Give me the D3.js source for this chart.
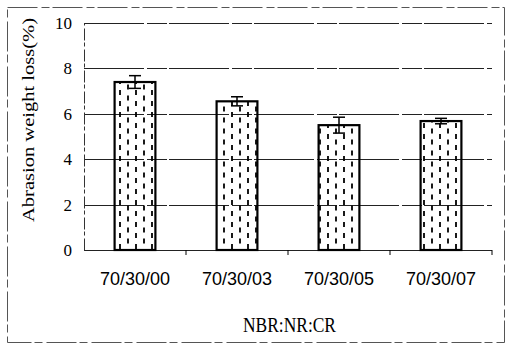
<!DOCTYPE html>
<meta charset="utf-8">
<head>
  <style>
    body { margin: 0; background: #fff; }
    svg { display: block; }
  </style>
</head>
<body>
<div id="chart"></div>
<script src="https://cdn.jsdelivr.net/npm/d3@7"></script>
<script>

var categories = ["70/30/00", "70/30/03", "70/30/05", "70/30/07"];
var values = [7.4, 6.55, 5.5, 5.68];
var errors = [0.28, 0.2, 0.35, 0.12];
var yTicks = [0, 2, 4, 6, 8, 10];

var serif = "'Liberation Serif', 'DejaVu Serif', serif";
var sans = "'Liberation Sans Narrow', 'Liberation Sans', Arial, sans-serif";

var width = 506, height = 349;
var margin = { top: 23, right: 14, bottom: 99, left: 84 };
var w = width - margin.left - margin.right,
    h = height - margin.top - margin.bottom;

var svg = d3.select("#chart").append("svg")
    .attr("width", width)
    .attr("height", height);

// hatch pattern of staggered vertical dashes
var pat = svg.append("defs").append("pattern")
    .attr("id", "dashes")
    .attr("patternUnits", "userSpaceOnUse")
    .attr("width", 16)
    .attr("height", 11);
pat.append("line").attr("x1", 4).attr("x2", 4).attr("y1", 1).attr("y2", 6)
    .attr("stroke", "#000").attr("stroke-width", 1.8);
pat.append("line").attr("x1", 12).attr("x2", 12).attr("y1", 6.5).attr("y2", 11.5)
    .attr("stroke", "#000").attr("stroke-width", 1.8);
pat.append("line").attr("x1", 12).attr("x2", 12).attr("y1", -4.5).attr("y2", 0.5)
    .attr("stroke", "#000").attr("stroke-width", 1.8);

// outer frame (scanned border)
svg.append("rect")
    .attr("x", 7.5).attr("y", 7.5)
    .attr("width", 497).attr("height", 335)
    .attr("fill", "none")
    .attr("stroke", "#555")
    .attr("stroke-width", 1)
    .attr("stroke-dasharray", "30,4,8,3");

var g = svg.append("g")
    .attr("transform", "translate(" + margin.left + "," + margin.top + ")");

var x = d3.scaleBand()
    .domain(categories)
    .range([0, w])
    .paddingInner(0.6)
    .paddingOuter(0.3);

var y = d3.scaleLinear()
    .domain([0, 10])
    .range([h, 0]);

// gridlines
g.selectAll(".grid")
  .data(yTicks)
  .enter().append("line")
    .attr("class", "grid")
    .attr("x1", 0).attr("x2", w)
    .attr("y1", function(d) { return Math.round(y(d)) + 0.5; })
    .attr("y2", function(d) { return Math.round(y(d)) + 0.5; })
    .attr("stroke", "#222")
    .attr("stroke-width", 1)
    .attr("stroke-dasharray", function(d) { return d == 0 ? null : "60,3,20,2"; });

// y axis
var yAxis = g.append("g")
    .call(d3.axisLeft(y).tickValues(yTicks).tickSize(0).tickPadding(12));
yAxis.select(".domain").attr("stroke", "#333").attr("stroke-dasharray", "12,3,4,2");
yAxis.selectAll(".tick text")
    .style("font-family", serif)
    .style("font-size", "17px")
    .attr("fill", "#000");

// x axis with ticks between categories
var xAxis = g.append("g")
    .attr("transform", "translate(0," + h + ")")
    .call(d3.axisBottom(x).tickSize(0).tickPadding(22));
xAxis.select(".domain").remove();
xAxis.selectAll(".tick text")
    .style("font-family", sans)
    .style("font-size", "18px")
    .attr("fill", "#000");

g.selectAll(".sep")
  .data(categories)
  .enter().append("line")
    .attr("class", "sep")
    .attr("x1", function(d) { return x(d) + x.bandwidth() / 2 + x.step() / 2; })
    .attr("x2", function(d) { return x(d) + x.bandwidth() / 2 + x.step() / 2; })
    .attr("y1", h).attr("y2", h + 5)
    .attr("stroke", "#000");

// bars
g.selectAll(".bar")
  .data(values)
  .enter().append("rect")
    .attr("class", "bar")
    .attr("x", function(d, i) { return x(categories[i]); })
    .attr("y", function(d) { return y(d); })
    .attr("width", x.bandwidth())
    .attr("height", function(d) { return h - y(d); })
    .attr("fill", "url(#dashes)")
    .attr("stroke", "#000")
    .attr("stroke-width", 2.2);

// error bars
var eb = g.selectAll(".err")
  .data(values)
  .enter().append("g")
    .attr("class", "err")
    .attr("transform", function(d, i) { return "translate(" + (x(categories[i]) + x.bandwidth() / 2) + ",0)"; });
eb.append("line")
    .attr("y1", function(d, i) { return y(d + errors[i]); })
    .attr("y2", function(d, i) { return y(d - errors[i]); })
    .attr("stroke", "#000").attr("stroke-width", 1.5);
eb.append("line")
    .attr("x1", -6).attr("x2", 6)
    .attr("y1", function(d, i) { return y(d + errors[i]); })
    .attr("y2", function(d, i) { return y(d + errors[i]); })
    .attr("stroke", "#000").attr("stroke-width", 1.5);
eb.append("line")
    .attr("x1", -6).attr("x2", 6)
    .attr("y1", function(d, i) { return y(d - errors[i]); })
    .attr("y2", function(d, i) { return y(d - errors[i]); })
    .attr("stroke", "#000").attr("stroke-width", 1.5);

// axis titles
svg.append("text")
    .attr("transform", "translate(34,120) rotate(-90)")
    .attr("text-anchor", "middle")
    .attr("textLength", 204)
    .attr("lengthAdjust", "spacingAndGlyphs")
    .style("font-family", serif)
    .style("font-size", "17px")
    .text("Abrasion weight loss(%)");

svg.append("text")
    .attr("x", 243).attr("y", 332)
    .style("font-family", serif)
    .style("font-size", "20px")
    .attr("textLength", 93)
    .attr("lengthAdjust", "spacingAndGlyphs")
    .text("NBR:NR:CR");

</script>
</body>
